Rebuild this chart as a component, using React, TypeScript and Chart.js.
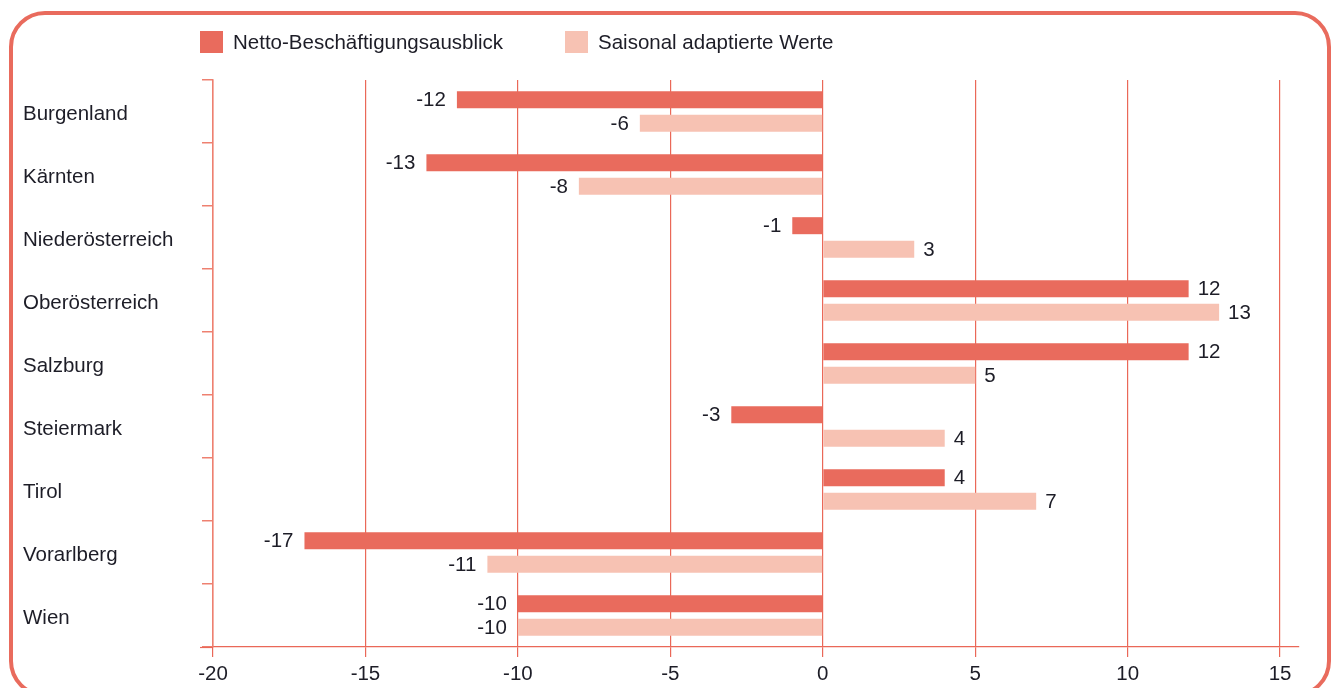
import React, { useEffect, useRef } from 'react';
import { Chart, registerables } from 'chart.js';

Chart.register(...registerables);

const categories = [
  'Burgenland',
  'Kärnten',
  'Niederösterreich',
  'Oberösterreich',
  'Salzburg',
  'Steiermark',
  'Tirol',
  'Vorarlberg',
  'Wien',
];
const nettoValues = [-12, -13, -1, 12, 12, -3, 4, -17, -10];
const saisonalValues = [-6, -8, 3, 13, 5, 4, 7, -11, -10];
const seriesLabels = ['Netto-Beschäftigungsausblick', 'Saisonal adaptierte Werte'];
const xTicks = [-20, -15, -10, -5, 0, 5, 10, 15];

const DARK = '#E96B5D';
const LIGHT = '#F7C2B3';
const GRID = '#EA6858';
const AXIS = '#EE8070';
const TEXT = '#1d1d27';
const FONT = '"Liberation Sans", Arial, Helvetica, sans-serif';
const FS = 20.5;

const valueLabels = {
  id: 'valueLabels',
  afterDatasetsDraw(chart: any) {
    const ctx = chart.ctx;
    ctx.save();
    ctx.font = `${FS}px ${FONT}`;
    ctx.fillStyle = TEXT;
    ctx.textBaseline = 'middle';
    chart.data.datasets.forEach((ds: any, i: number) => {
      const meta = chart.getDatasetMeta(i);
      meta.data.forEach((bar: any, j: number) => {
        const v = ds.data[j] as number;
        const p = bar.getProps(['x', 'y'], true);
        if (v < 0) {
          ctx.textAlign = 'right';
          ctx.fillText(String(v), p.x - 11, p.y + 1);
        } else {
          ctx.textAlign = 'left';
          ctx.fillText(String(v), p.x + 9, p.y + 1);
        }
      });
    });
    ctx.restore();
  },
};

const extras = {
  id: 'extras',
  afterDraw(chart: any) {
    const ctx = chart.ctx;
    const area = chart.chartArea;
    ctx.save();
    ctx.strokeStyle = GRID;
    ctx.lineWidth = 1.2;
    ctx.beginPath();
    const yb = Math.round(area.bottom) + 0.5;
    ctx.moveTo(area.left - 13, yb);
    ctx.lineTo(area.left, yb);
    ctx.stroke();
    const starts = [area.left - 13, area.left + 352];
    ctx.font = `${FS}px ${FONT}`;
    ctx.textBaseline = 'middle';
    ctx.textAlign = 'left';
    chart.data.datasets.forEach((ds: any, i: number) => {
      const x = starts[i];
      ctx.fillStyle = ds.backgroundColor;
      ctx.fillRect(x, 31, 23, 22);
      ctx.fillStyle = TEXT;
      ctx.fillText(ds.label, x + 33, 43);
    });
    ctx.restore();
  },
};

export default function App() {
  const ref = useRef<HTMLCanvasElement | null>(null);

  useEffect(() => {
    if (!ref.current) return;
    Chart.defaults.font.family = FONT;
    const chart = new Chart(ref.current, {
      type: 'bar',
      data: {
        labels: categories,
        datasets: [
          {
            label: seriesLabels[0],
            data: nettoValues,
            backgroundColor: DARK,
            borderWidth: 0,
            barPercentage: 0.72,
            categoryPercentage: 0.75,
          },
          {
            label: seriesLabels[1],
            data: saisonalValues,
            backgroundColor: LIGHT,
            borderWidth: 0,
            barPercentage: 0.72,
            categoryPercentage: 0.75,
          },
        ],
      },
      options: {
        indexAxis: 'y',
        responsive: false,
        animation: false,
        devicePixelRatio: 1,
        layout: { padding: { left: 23, top: 80, right: 36, bottom: 0 } },
        plugins: {
          legend: { display: false },
          tooltip: { enabled: false },
        },
        scales: {
          x: {
            type: 'linear',
            min: -20,
            max: 15.62,
            afterBuildTicks: (s: any) => {
              s.ticks = xTicks.map((v) => ({ value: v }));
            },
            afterFit: (s: any) => {
              s.height = 41;
            },
            grid: {
              color: GRID,
              lineWidth: 1.2,
              drawTicks: true,
              tickLength: 10,
            },
            border: { display: true, color: GRID, width: 1.2 },
            ticks: {
              font: { family: FONT, size: FS },
              color: TEXT,
              padding: 5,
              maxRotation: 0,
              autoSkip: false,
            },
          },
          y: {
            type: 'category',
            afterFit: (s: any) => {
              s.width = 190;
            },
            grid: {
              drawOnChartArea: false,
              color: AXIS,
              lineWidth: 1.5,
              tickLength: 11,
              offset: true,
            },
            border: { display: true, color: AXIS, width: 1.5 },
            ticks: {
              crossAlign: 'far',
              font: { family: FONT, size: FS },
              color: TEXT,
              autoSkip: false,
              labelOffset: 3,
            },
          },
        },
      },
      plugins: [valueLabels, extras],
    } as any);
    return () => chart.destroy();
  }, []);

  return (
    <div style={{ position: 'absolute', left: 0, top: 0, width: 1335, height: 688, overflow: 'hidden', background: '#fff' }}>
      <div
        style={{
          position: 'absolute',
          left: 9,
          top: 11,
          width: 1322,
          height: 686,
          boxSizing: 'border-box',
          border: `4px solid ${DARK}`,
          borderRadius: 36,
        }}
      />
      <canvas
        ref={ref}
        width={1335}
        height={688}
        style={{ position: 'absolute', left: 0, top: 0, width: 1335, height: 688 }}
      />
    </div>
  );
}
